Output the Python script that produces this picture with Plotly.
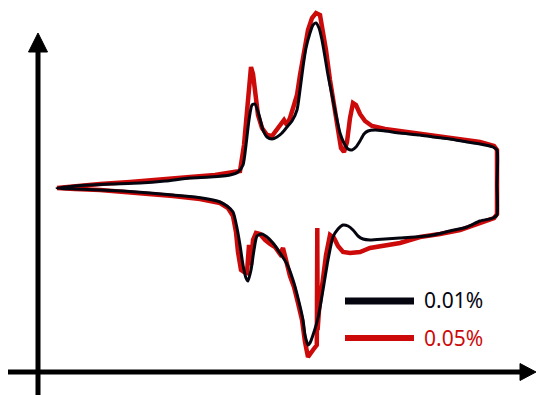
import plotly.graph_objects as go

# Potential (x) and current (y, arbitrary units) for the closed CV loops
pot_001 = [57, 75, 90, 110, 140, 165, 190, 210, 230, 238, 243, 246, 249, 252, 255, 259, 263, 267, 272, 277,
           282, 287, 292, 297, 300, 303, 306, 310, 313, 316, 319, 322, 325, 328, 332, 336, 340, 344, 348, 352,
           356, 360, 364, 368, 375, 385, 400, 420, 433, 450, 467, 480, 493, 497,
           497, 497, 493,
           480, 467, 450, 433, 415, 400, 385, 370, 363, 358, 353, 348, 343, 338, 333, 328, 323, 318, 313,
           310, 308, 305, 303, 298, 293, 287, 280, 273, 267, 262, 257, 254, 251, 248, 246, 243, 240, 237,
           233, 227, 220, 213, 195, 173, 150, 123, 100, 75, 57]
cur_001 = [-188, -186, -185, -184, -183, -181, -178, -177, -175, -172, -165, -145, -120, -105, -104, -115, -130, -137, -139, -137,
           -133, -127, -121, -110, -90, -67, -48, -33, -25, -23, -28, -40, -57, -75, -95, -115, -133, -143, -149, -150,
           -147, -141, -134, -131, -130, -131, -133, -135, -137, -139, -142, -144, -147, -150,
           -185, -215, -218,
           -221, -227, -231, -235, -237, -238, -239, -240, -239, -236, -230, -226, -225, -229, -237, -260, -290, -318, -335,
           -343, -345, -335, -320, -298, -280, -264, -253, -243, -237, -234, -236, -250, -270, -281, -278, -265, -245, -228,
           -212, -206, -202, -200, -197, -195, -193, -191, -190, -189, -188]

pot_005 = [57, 75, 100, 130, 160, 190, 215, 232, 240, 244, 247, 249, 251, 253, 255, 258, 262, 267, 272, 276,
           280, 284, 287, 290, 294, 297, 300, 304, 308, 312, 316, 320, 323, 326, 330, 334, 338, 341, 344, 347, 350,
           353, 356, 360, 365, 372, 385, 400, 420, 440, 460, 480, 494, 497,
           497, 497, 494,
           480, 460, 440, 420, 400, 385, 370, 360, 350, 343, 338, 334, 330, 326, 322, 319, 317.6, 317.3, 316.8,
           313, 310, 308, 305, 302, 298, 294, 290, 286, 283, 280, 275, 270, 265, 260, 256, 253, 251, 249, 247,
           244, 241, 238, 236, 233, 228, 220, 200, 173, 150, 123, 100, 75, 57]
cur_005 = [-188, -186, -184, -182, -180, -177, -175, -173, -171, -145, -110, -80, -67, -74, -95, -115, -128, -135, -136, -130,
           -124, -120, -125, -118, -105, -95, -75, -50, -30, -18, -13, -15, -30, -50, -80, -105, -130, -148, -152, -142, -118,
           -103, -105, -114, -121, -126, -129, -131, -133, -136, -139, -142, -146, -150,
           -185, -214, -218,
           -223, -230, -234, -237, -243, -245, -248, -252, -253, -252, -246, -238, -235, -255, -285, -310, -330, -228, -345,
           -350, -354, -357, -342, -320, -303, -287, -276, -262, -248, -254, -247, -244, -240, -234, -233, -240, -265, -245, -273,
           -272, -270, -252, -232, -216, -208, -203, -199, -196, -194, -192, -190, -189, -188]

legend_labels = ["0.01%", "0.05%"]
colors = ["#050510", "#cc0a0a"]

fig = go.Figure()
fig.add_trace(go.Scatter(x=pot_005, y=cur_005, mode="lines",
                         line=dict(color=colors[1], width=4.5),
                         showlegend=False, hoverinfo="skip"))
fig.add_trace(go.Scatter(x=pot_001, y=cur_001, mode="lines",
                         line=dict(color=colors[0], width=3, shape="spline", smoothing=0.6),
                         showlegend=False, hoverinfo="skip"))

shapes = [
    # y axis line and arrowhead
    dict(type="line", x0=38, x1=38, y0=-396, y1=-50, line=dict(color="black", width=5)),
    dict(type="path", path="M 28.5,-52 L 47.5,-52 L 38,-33 Z", fillcolor="black", line=dict(color="black", width=1)),
    # x axis line and arrowhead
    dict(type="line", x0=8, x1=522, y0=-372, y1=-372, line=dict(color="black", width=5)),
    dict(type="path", path="M 520,-363.5 L 520,-380.5 L 536,-372 Z", fillcolor="black", line=dict(color="black", width=1)),
    # legend lines
    dict(type="line", x0=345, x1=414, y0=-301, y1=-301, line=dict(color=colors[0], width=7)),
    dict(type="line", x0=345, x1=414, y0=-338, y1=-338, line=dict(color=colors[1], width=6)),
]

annotations = [
    dict(x=422, y=-300, text=legend_labels[0], showarrow=False, xanchor="left", yanchor="middle",
         font=dict(family="Noto Sans", size=21, color=colors[0])),
    dict(x=422, y=-338, text=legend_labels[1], showarrow=False, xanchor="left", yanchor="middle",
         font=dict(family="Noto Sans", size=21, color=colors[1])),
]

fig.update_layout(
    width=536, height=395,
    margin=dict(l=0, r=0, t=0, b=0),
    paper_bgcolor="white", plot_bgcolor="white",
    xaxis=dict(range=[0, 536], visible=False, fixedrange=True),
    yaxis=dict(range=[-395, 0], visible=False, fixedrange=True),
    shapes=shapes, annotations=annotations,
)

fig.write_html("out.html")
